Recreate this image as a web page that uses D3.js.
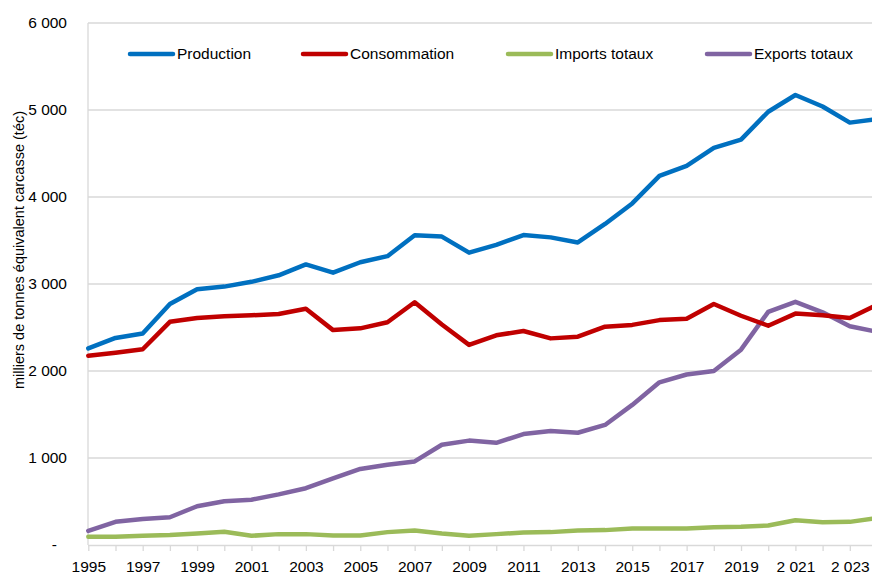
<!DOCTYPE html>
<html><head><meta charset="utf-8">
<script src="https://cdn.jsdelivr.net/npm/d3@7"></script>
<style>body{margin:0;background:#fff}svg{display:block}text{font-family:"Liberation Sans",Arial,sans-serif;fill:#000}</style>
</head><body>
<svg id="c" width="872" height="576"></svg>
<script>
const years = d3.range(1995, 2025);
const production = [2260,2380,2430,2770,2940,2970,3025,3100,3225,3130,3250,3320,3560,3545,3360,3450,3562,3536,3478,3690,3926,4242,4357,4565,4660,4980,5172,5040,4855,4895];
const consommation = [2175,2210,2250,2565,2610,2630,2640,2655,2715,2470,2490,2560,2790,2535,2300,2410,2460,2375,2395,2510,2530,2585,2600,2770,2635,2520,2660,2640,2610,2760];
const imports = [95,95,106,114,133,152,106,125,125,110,110,148,167,133,106,125,144,148,167,171,190,190,190,205,209,224,285,262,266,310];
const exports = [163,266,300,319,445,502,521,582,653,767,874,923,961,1152,1200,1175,1275,1310,1290,1380,1610,1870,1960,2000,2245,2680,2795,2675,2515,2450];
const seriesNames = ["Production","Consommation","Imports totaux","Exports totaux"];
const seriesColors = ["#0070C0","#C00000","#9BBB59","#8064A2"];
const yTicks = [0,1000,2000,3000,4000,5000,6000];
const xTickLabels = ["1995","1997","1999","2001","2003","2005","2007","2009","2011","2013","2015","2017","2019","2 021","2 023"];

const svg = d3.select("#c");
const x = d3.scaleLinear().domain([1995, 2024]).range([88.3, 877]);
const y = d3.scaleLinear().domain([0, 6000]).range([545, 23]);

// gridlines
svg.append("g").selectAll("line").data(yTicks.filter(d=>d>0)).join("line")
  .attr("x1", 88).attr("x2", 872).attr("y1", d=>y(d)).attr("y2", d=>y(d))
  .attr("stroke", "#d9d9d9").attr("stroke-width", 1.3);
// left axis line
svg.append("line").attr("x1",88).attr("x2",88).attr("y1",y(6000)).attr("y2",y(0))
  .attr("stroke","#d9d9d9").attr("stroke-width",1.3);
// y labels
svg.append("g").selectAll("text").data(yTicks).join("text")
  .attr("x", d=> d===0 ? 57 : 67).attr("y", d=>y(d)).attr("dy","0.35em")
  .attr("text-anchor","end").attr("font-size", 15.5)
  .text(d => d===0 ? "-" : d3.format(",")(d).replace(",", " "));
// x axis
const xAxis = d3.axisBottom(x).tickValues(years).tickSize(6).tickFormat(d => {
  const i = (d-1995);
  return i%2===0 ? xTickLabels[i/2] : "";
});
const gx = svg.append("g").attr("transform",`translate(0,${y(0)})`).call(xAxis);
gx.select(".domain").attr("stroke","#d9d9d9").attr("stroke-width",1.3).attr("d",`M88,0.5H872`);
gx.selectAll(".tick line").attr("stroke","#d9d9d9").attr("stroke-width",1.3);
gx.selectAll(".tick text").attr("font-size",15.5).attr("dy",0).attr("y",27)
  .style("font-family",'"Liberation Sans",Arial,sans-serif').attr("fill","#000");

// y title
svg.append("text").attr("transform","translate(24,250) rotate(-90)")
  .attr("text-anchor","middle").attr("font-size",14.5)
  .text("milliers de tonnes équivalent carcasse (téc)");

// lines
const all = [production, consommation, imports, exports];
const line = d3.line().x((d,i)=>x(years[i])).y(d=>y(d));
const drawOrder = [3,2,1,0];
svg.append("clipPath").attr("id","cp").append("rect").attr("x",0).attr("y",0).attr("width",872).attr("height",576);
svg.append("g").attr("clip-path","url(#cp)").selectAll("path").data(drawOrder).join("path")
  .attr("d", k=>line(all[k])).attr("fill","none").attr("stroke",k=>seriesColors[k])
  .attr("stroke-width",4.5).attr("stroke-linejoin","round").attr("stroke-linecap","round");

// legend
const legX = [130, 303, 508, 707];
const lg = svg.append("g").selectAll("g").data(seriesNames).join("g")
  .attr("transform",(d,i)=>`translate(${legX[i]},54)`);
lg.append("line").attr("x1",0).attr("x2",43).attr("y1",0).attr("y2",0)
  .attr("stroke",(d,i)=>seriesColors[i]).attr("stroke-width",4.5).attr("stroke-linecap","round");
lg.append("text").attr("x",47).attr("dy","0.35em").attr("font-size",15.5).text(d=>d);
</script>
</body></html>
